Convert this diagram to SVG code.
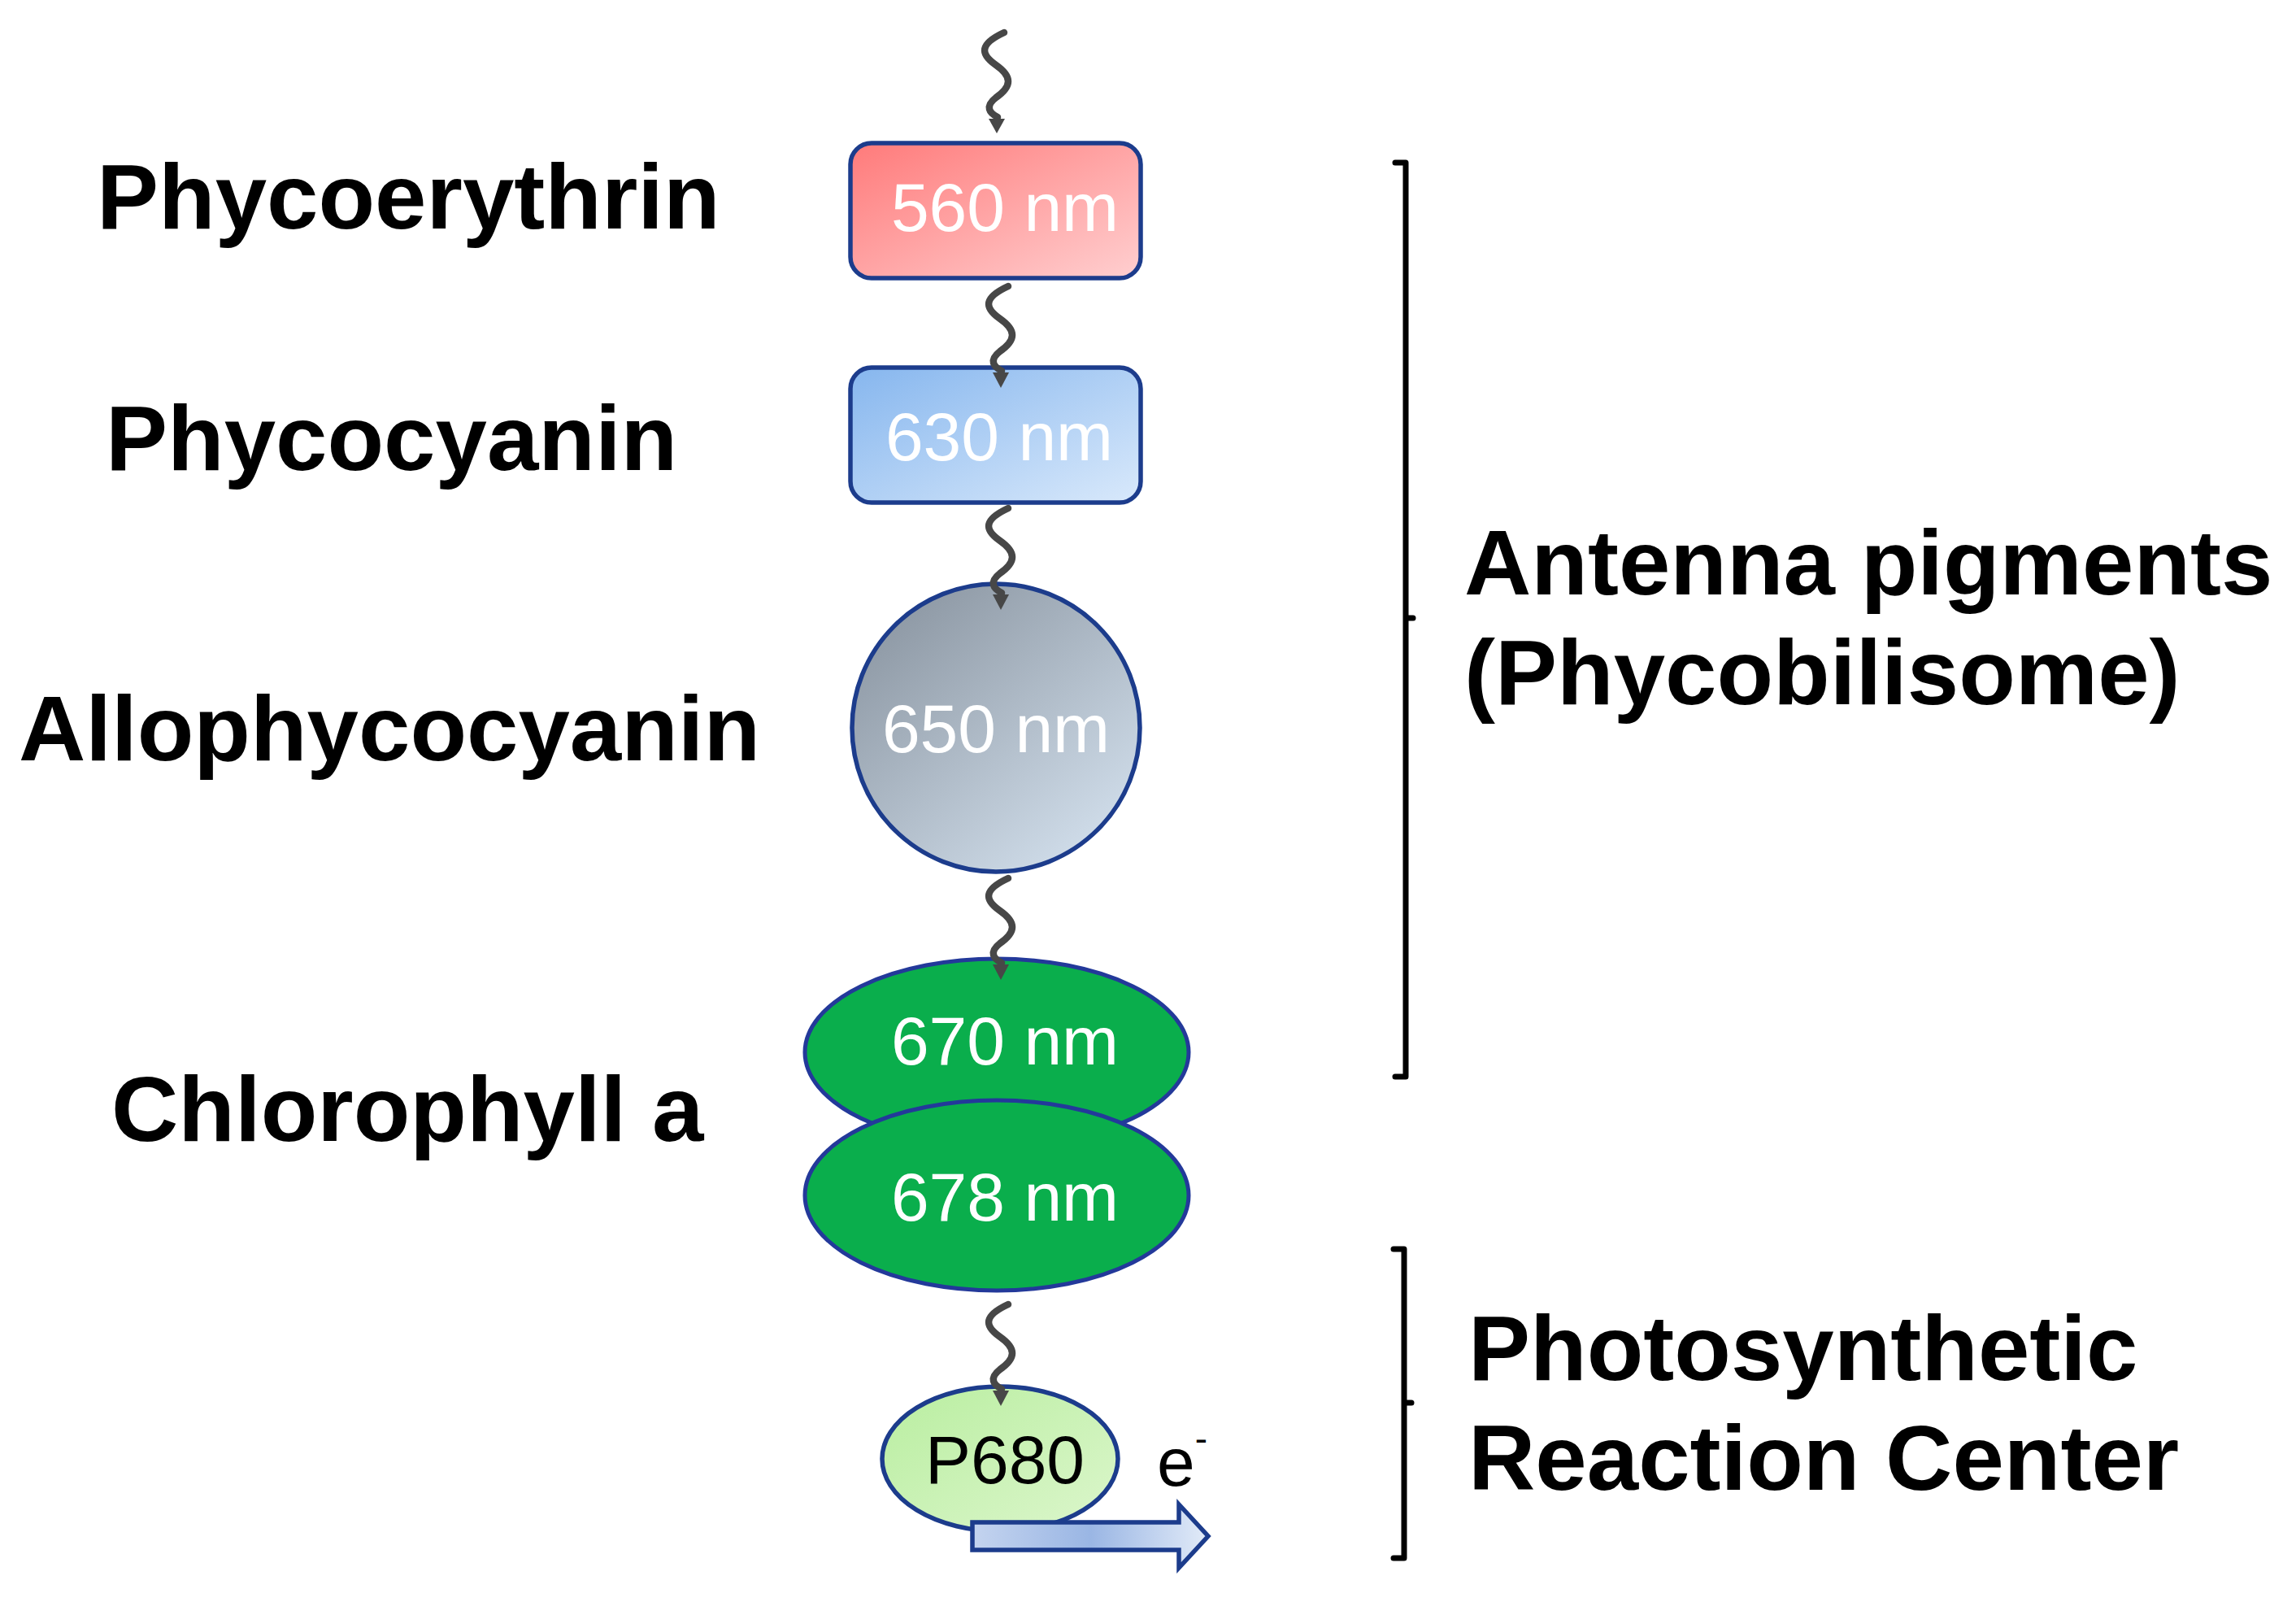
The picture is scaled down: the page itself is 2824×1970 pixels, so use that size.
<svg xmlns="http://www.w3.org/2000/svg" width="2824" height="1970" viewBox="0 0 2824 1970">
<style>
.lbl{font-family:"Liberation Sans",Arial,sans-serif;font-weight:bold;font-size:114px;fill:#000}
.num{font-family:"Liberation Sans",Arial,sans-serif;font-size:84px;fill:#fff;text-anchor:middle}
.sq{fill:none;stroke:#474747;stroke-width:8.5;stroke-linecap:round}
.ah{fill:#474747}
.br{fill:none;stroke:#000;stroke-width:7;stroke-linecap:round;stroke-linejoin:round}
.edge{stroke:#1c3c8c;stroke-width:5.5}
</style>
<defs>
<linearGradient id="gRed" x1="0" y1="0" x2="1" y2="1">
<stop offset="0" stop-color="#ff7a7a"/><stop offset="1" stop-color="#ffcfd0"/>
</linearGradient>
<linearGradient id="gBlue" x1="0" y1="0" x2="1" y2="1">
<stop offset="0" stop-color="#86b6ee"/><stop offset="1" stop-color="#d9e9fb"/>
</linearGradient>
<linearGradient id="gGray" x1="0.15" y1="0.1" x2="0.85" y2="0.95">
<stop offset="0" stop-color="#8e99a5"/><stop offset="1" stop-color="#d2dfec"/>
</linearGradient>
<linearGradient id="gP" x1="0" y1="0" x2="1" y2="1">
<stop offset="0" stop-color="#b9eea0"/><stop offset="1" stop-color="#dcf6cc"/>
</linearGradient>
<linearGradient id="gArrow" x1="0" y1="0" x2="1" y2="0">
<stop offset="0" stop-color="#c4d4ef"/><stop offset="0.5" stop-color="#9ab6e4"/><stop offset="1" stop-color="#e2ebf8"/>
</linearGradient>
<path id="wave" d="M10,0 C-20,14 -20,26 0,40 C20,54 20,66 0,80 C-14,91 -8,99 2,104"/>
</defs>
<rect width="2824" height="1970" fill="#fff"/>

<g id="phycoerythrin">
<rect x="1046" y="176" width="357" height="166" rx="26" fill="url(#gRed)" class="edge"/>
<text class="num" x="1236" y="284">560 nm</text>
<text class="lbl" x="119" y="281">Phycoerythrin</text>
</g>
<g id="phycocyanin">
<rect x="1046" y="452" width="357" height="166" rx="26" fill="url(#gBlue)" class="edge"/>
<text class="num" x="1229" y="566">630 nm</text>
<text class="lbl" x="130" y="578">Phycocyanin</text>
</g>
<g id="allophycocyanin">
<circle cx="1225" cy="895" r="177" fill="url(#gGray)" class="edge"/>
<text class="num" x="1225" y="925">650 nm</text>
<text class="lbl" x="23" y="935">Allophycocyanin</text>
</g>
<g id="chlorophyll-a">
<ellipse cx="1226" cy="1294" rx="236" ry="115" fill="#0aae4c" stroke="#23399a" stroke-width="5"/>
<ellipse cx="1226" cy="1470" rx="236" ry="117" fill="#0aae4c" stroke="#23399a" stroke-width="5"/>
<text class="num" x="1236" y="1309">670 nm</text>
<text class="num" x="1236" y="1501">678 nm</text>
<text class="lbl" x="137" y="1403">Chlorophyll a</text>
</g>
<g id="p680">
<ellipse cx="1230" cy="1794" rx="145" ry="89" fill="url(#gP)" class="edge"/>
<text class="num" x="1236" y="1824" style="fill:#000">P680</text>
<text class="num" x="1423" y="1827" style="fill:#000;text-anchor:start">e<tspan font-size="46" dy="-42">-</tspan></text>
<path d="M1196,1872 H1450 V1850 L1486,1889 L1450,1928 V1906 H1196 Z" fill="url(#gArrow)" stroke="#1c3c8c" stroke-width="5.5" stroke-linejoin="miter"/>
</g>

<g id="connectors">
<use href="#wave" class="sq" transform="translate(1225,40)"/>
<polygon class="ah" points="1216,146 1236,146 1226,164"/>
<use href="#wave" class="sq" transform="translate(1230,352)"/>
<polygon class="ah" points="1221,458 1241,458 1231,477"/>
<use href="#wave" class="sq" transform="translate(1230,625)"/>
<polygon class="ah" points="1221,731 1241,731 1231,750"/>
<use href="#wave" class="sq" transform="translate(1230,1080)"/>
<polygon class="ah" points="1221,1186 1241,1186 1231,1205"/>
<use href="#wave" class="sq" transform="translate(1230,1604)"/>
<polygon class="ah" points="1221,1710 1241,1710 1231,1729"/>
</g>

<g id="antenna-bracket">
<path class="br" d="M1716,200 H1729 V1324 H1716 M1729,760 H1738"/>
<text class="lbl" x="1801" y="731">Antenna pigments</text>
<text class="lbl" x="1801" y="866">(Phycobilisome)</text>
</g>
<g id="reaction-bracket">
<path class="br" d="M1714,1536 H1727 V1916 H1714 M1727,1725 H1736"/>
<text class="lbl" x="1806" y="1697">Photosynthetic</text>
<text class="lbl" x="1806" y="1832">Reaction Center</text>
</g>
</svg>
